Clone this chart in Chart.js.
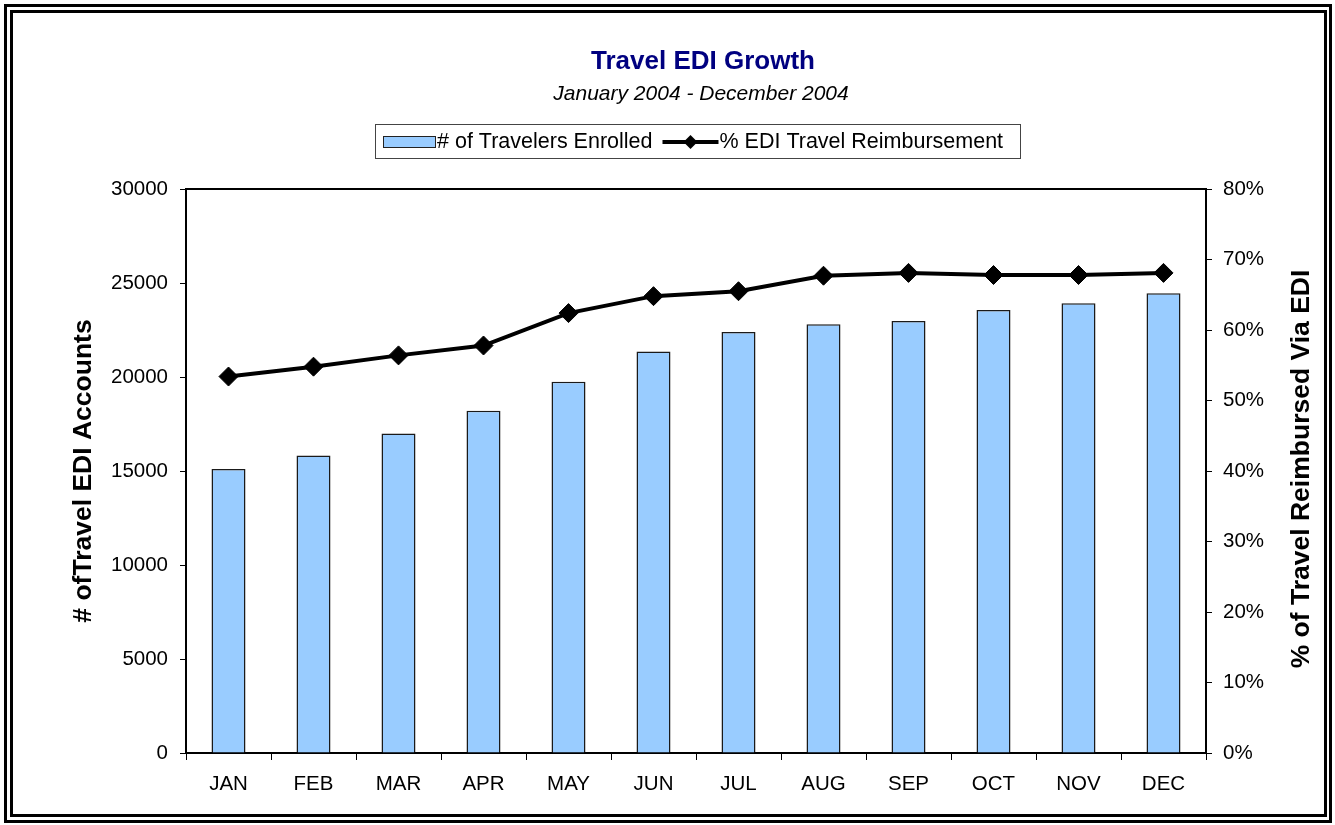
<!DOCTYPE html>
<html>
<head>
<meta charset="utf-8">
<title>Travel EDI Growth</title>
<script src="https://cdn.jsdelivr.net/npm/chart.js@4.4.1/dist/chart.umd.min.js"></script>
<style>
  html, body { margin: 0; padding: 0; background: #fff; }
  canvas { display: block; }
</style>
</head>
<body>
<canvas id="ediChart" width="1335" height="825"></canvas>
<script>
// chart data
const months = ['JAN', 'FEB', 'MAR', 'APR', 'MAY', 'JUN', 'JUL', 'AUG', 'SEP', 'OCT', 'NOV', 'DEC'];
const travelersEnrolled = [15100, 15820, 17000, 18210, 19750, 21350, 22400, 22800, 22980, 23560, 23920, 24450];
const ediReimbursePct = [53.4, 54.8, 56.4, 57.8, 62.4, 64.8, 65.5, 67.7, 68.1, 67.8, 67.8, 68.1];
const leftTicks = [0, 5000, 10000, 15000, 20000, 25000, 30000];
const rightTicks = [0, 10, 20, 30, 40, 50, 60, 70, 80];

const titleText = 'Travel EDI Growth';
const subtitleText = 'January 2004 - December 2004';
const leftAxisTitle = '# ofTravel EDI Accounts';
const rightAxisTitle = '% of Travel Reimbursed Via EDI';

const FONT = '"Liberation Sans", Arial, sans-serif';
const BAR_COLOR = '#99CCFF';

// frame, titles, legend and rotated axis titles (Excel style)
const excelDecor = {
    id: 'excelDecor',
    beforeDraw(chart) {
        const ctx = chart.ctx;
        ctx.save();
        ctx.fillStyle = '#fff';
        ctx.fillRect(0, 0, chart.width, chart.height);
        ctx.strokeStyle = '#000';
        ctx.lineWidth = 3;
        ctx.strokeRect(5.5, 5.5, 1325, 816);
        ctx.strokeRect(11.5, 11.5, 1314, 804);
        ctx.restore();
    },
    beforeDatasetsDraw(chart) {
        const a = chart.chartArea;
        const ctx = chart.ctx;
        ctx.save();
        ctx.strokeStyle = '#000';
        ctx.lineWidth = 2;
        ctx.beginPath();
        ctx.moveTo(a.left, a.top);
        ctx.lineTo(a.right, a.top);
        ctx.stroke();
        ctx.restore();
    },
    afterDraw(chart) {
        const a = chart.chartArea;
        const ctx = chart.ctx;
        ctx.save();

        // title + subtitle
        ctx.textAlign = 'center';
        ctx.textBaseline = 'middle';
        ctx.fillStyle = '#000080';
        ctx.font = 'bold 26px ' + FONT;
        ctx.fillText(titleText, 703, 62);
        ctx.fillStyle = '#000';
        ctx.font = 'italic 21px ' + FONT;
        ctx.fillText(subtitleText, 701, 94);

        // legend box
        const ds = chart.data.datasets;
        ctx.font = '21.5px ' + FONT;
        ctx.fillStyle = '#fff';
        ctx.strokeStyle = '#444';
        ctx.lineWidth = 1;
        ctx.fillRect(375.5, 124.5, 645, 34);
        ctx.strokeRect(375.5, 124.5, 645, 34);
        const ly = 142;
        // bar swatch
        ctx.fillStyle = BAR_COLOR;
        ctx.fillRect(383, 136, 53, 12);
        ctx.strokeStyle = '#222';
        ctx.strokeRect(383.5, 136.5, 52, 11);
        ctx.fillStyle = '#000';
        ctx.textAlign = 'left';
        ctx.fillText(ds[0].label, 437, ly);
        let x = 437 + ctx.measureText(ds[0].label).width + 10;
        // line swatch with diamond
        ctx.strokeStyle = '#000';
        ctx.lineWidth = 4;
        ctx.beginPath();
        ctx.moveTo(x, ly);
        ctx.lineTo(x + 56, ly);
        ctx.stroke();
        ctx.beginPath();
        ctx.moveTo(x + 28 - 7, ly);
        ctx.lineTo(x + 28, ly - 7);
        ctx.lineTo(x + 28 + 7, ly);
        ctx.lineTo(x + 28, ly + 7);
        ctx.closePath();
        ctx.fill();
        ctx.fillText(ds[1].label, x + 57, ly);

        // axis titles, both read bottom to top
        const midY = (a.top + a.bottom) / 2;
        ctx.font = 'bold 26.5px ' + FONT;
        ctx.textAlign = 'center';
        ctx.textBaseline = 'middle';
        ctx.translate(84, midY);
        ctx.rotate(-Math.PI / 2);
        ctx.fillText(leftAxisTitle, 0, 0);
        ctx.rotate(Math.PI / 2);
        ctx.translate(1302 - 84, -2);
        ctx.rotate(-Math.PI / 2);
        ctx.fillText(rightAxisTitle, 0, 0);
        ctx.restore();
    }
};

const ctx = document.getElementById('ediChart').getContext('2d');
new Chart(ctx, {
    type: 'bar',
    data: {
        labels: months,
        datasets: [{
            type: 'bar',
            label: '# of Travelers Enrolled',
            data: travelersEnrolled,
            yAxisID: 'y',
            backgroundColor: BAR_COLOR,
            borderColor: '#1a1a1a',
            borderWidth: 1.5,
            barPercentage: 0.4,
            categoryPercentage: 1.0,
            order: 2
        }, {
            type: 'line',
            label: '% EDI Travel Reimbursement',
            data: ediReimbursePct,
            yAxisID: 'y1',
            borderColor: '#000',
            borderWidth: 4,
            backgroundColor: '#000',
            pointStyle: 'rectRot',
            pointRadius: 9.5,
            pointBackgroundColor: '#000',
            pointBorderColor: '#000',
            pointBorderWidth: 1,
            tension: 0,
            order: 1
        }]
    },
    options: {
        responsive: false,
        animation: false,
        layout: {
            padding: { left: 14, right: 9, top: 189, bottom: 8 }
        },
        plugins: {
            legend: { display: false },
            title: { display: false },
            tooltip: { enabled: false }
        },
        scales: {
            x: {
                afterFit: s => { s.height = 64; },
                grid: {
                    display: true,
                    drawOnChartArea: false,
                    offset: true,
                    tickLength: 7,
                    color: '#000',
                    lineWidth: 1
                },
                border: { display: true, color: '#000', width: 2 },
                ticks: {
                    color: '#000',
                    font: { family: FONT, size: 20.5 },
                    padding: 12,
                    maxRotation: 0
                }
            },
            y: {
                position: 'left',
                min: leftTicks[0],
                max: leftTicks[leftTicks.length - 1],
                afterFit: s => { s.width = 172; },
                afterBuildTicks: s => { s.ticks = leftTicks.map(v => ({ value: v })); },
                grid: {
                    drawOnChartArea: false,
                    tickLength: 6,
                    color: '#000'
                },
                border: { display: true, color: '#000', width: 2 },
                ticks: {
                    color: '#000',
                    font: { family: FONT, size: 20.5 },
                    padding: 12,
                    callback: v => String(v)
                }
            },
            y1: {
                position: 'right',
                min: rightTicks[0],
                max: rightTicks[rightTicks.length - 1],
                afterFit: s => { s.width = 120; },
                afterBuildTicks: s => { s.ticks = rightTicks.map(v => ({ value: v })); },
                grid: {
                    drawOnChartArea: false,
                    tickLength: 6,
                    color: '#000'
                },
                border: { display: true, color: '#000', width: 2 },
                ticks: {
                    color: '#000',
                    font: { family: FONT, size: 20.5 },
                    padding: 11,
                    callback: v => v + '%'
                }
            }
        }
    },
    plugins: [excelDecor]
});
</script>
</body>
</html>
